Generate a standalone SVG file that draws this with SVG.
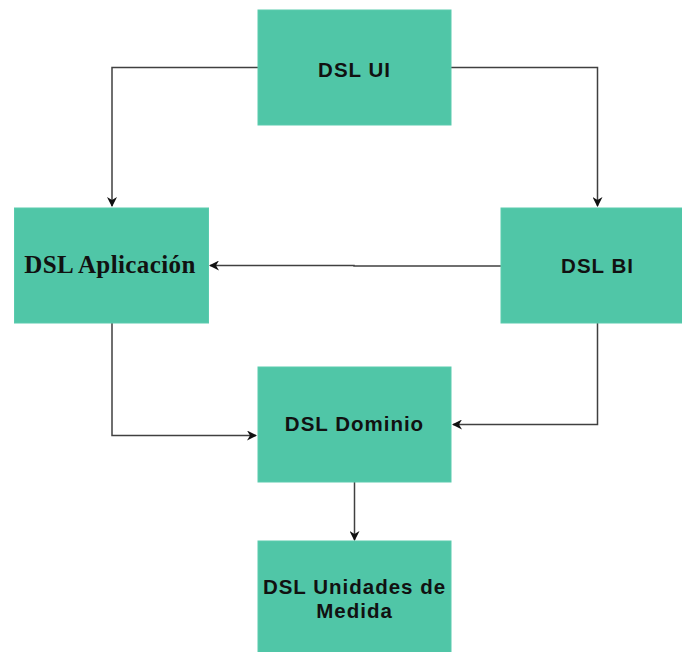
<svg xmlns="http://www.w3.org/2000/svg" width="682" height="652" viewBox="0 0 682 652">
<style>
.box{fill:#50C6A7;stroke:#5ACBAE;stroke-width:1}
.lbl{font-family:"Liberation Sans",Arial,sans-serif;font-weight:bold;font-size:20.5px;fill:#111;text-anchor:middle;letter-spacing:1px}
.serif{font-family:"Liberation Serif","Times New Roman",serif;font-weight:bold;font-size:25px;fill:#111;text-anchor:middle;letter-spacing:0.4px}
.edge{fill:none;stroke:#404040;stroke-width:1.5}
</style>
<defs>
<marker id="arr" viewBox="0 0 10 10" refX="9" refY="5" markerWidth="10" markerHeight="10" markerUnits="userSpaceOnUse" orient="auto">
<path d="M0,0 L10,5 L0,10 L3,5 Z" fill="#111"/>
</marker>
</defs>
<rect width="682" height="652" fill="#fff"/>
<g id="connectors">
<path class="edge" d="M258,67.5 H112 V206" marker-end="url(#arr)"/>
<path class="edge" d="M451,67.5 H597.5 V206" marker-end="url(#arr)"/>
<path class="edge" d="M501,266 H354 V265.5 H210" marker-end="url(#arr)"/>
<path class="edge" d="M112,323 V435.5 H256" marker-end="url(#arr)"/>
<path class="edge" d="M597.5,323 V424.5 H453" marker-end="url(#arr)"/>
<path class="edge" d="M354.5,482 V540" marker-end="url(#arr)"/>
</g>
<g id="node-ui">
<rect class="box" x="258" y="10" width="193" height="115"/>
<text class="lbl" x="354.5" y="76.5">DSL UI</text>
</g>
<g id="node-aplicacion">
<rect class="box" x="14.5" y="208" width="194" height="115"/>
<text class="serif" x="110" y="272.5">DSL Aplicación</text>
</g>
<g id="node-bi">
<rect class="box" x="501" y="208" width="195" height="115"/>
<text class="lbl" x="597.5" y="273">DSL BI</text>
</g>
<g id="node-dominio">
<rect class="box" x="258" y="367" width="193" height="115"/>
<text class="lbl" x="354.5" y="431">DSL Dominio</text>
</g>
<g id="node-unidades">
<rect class="box" x="258" y="541" width="193" height="120"/>
<text class="lbl" x="354.5" y="593.5">DSL Unidades de</text>
<text class="lbl" x="354.5" y="618">Medida</text>
</g>
</svg>
